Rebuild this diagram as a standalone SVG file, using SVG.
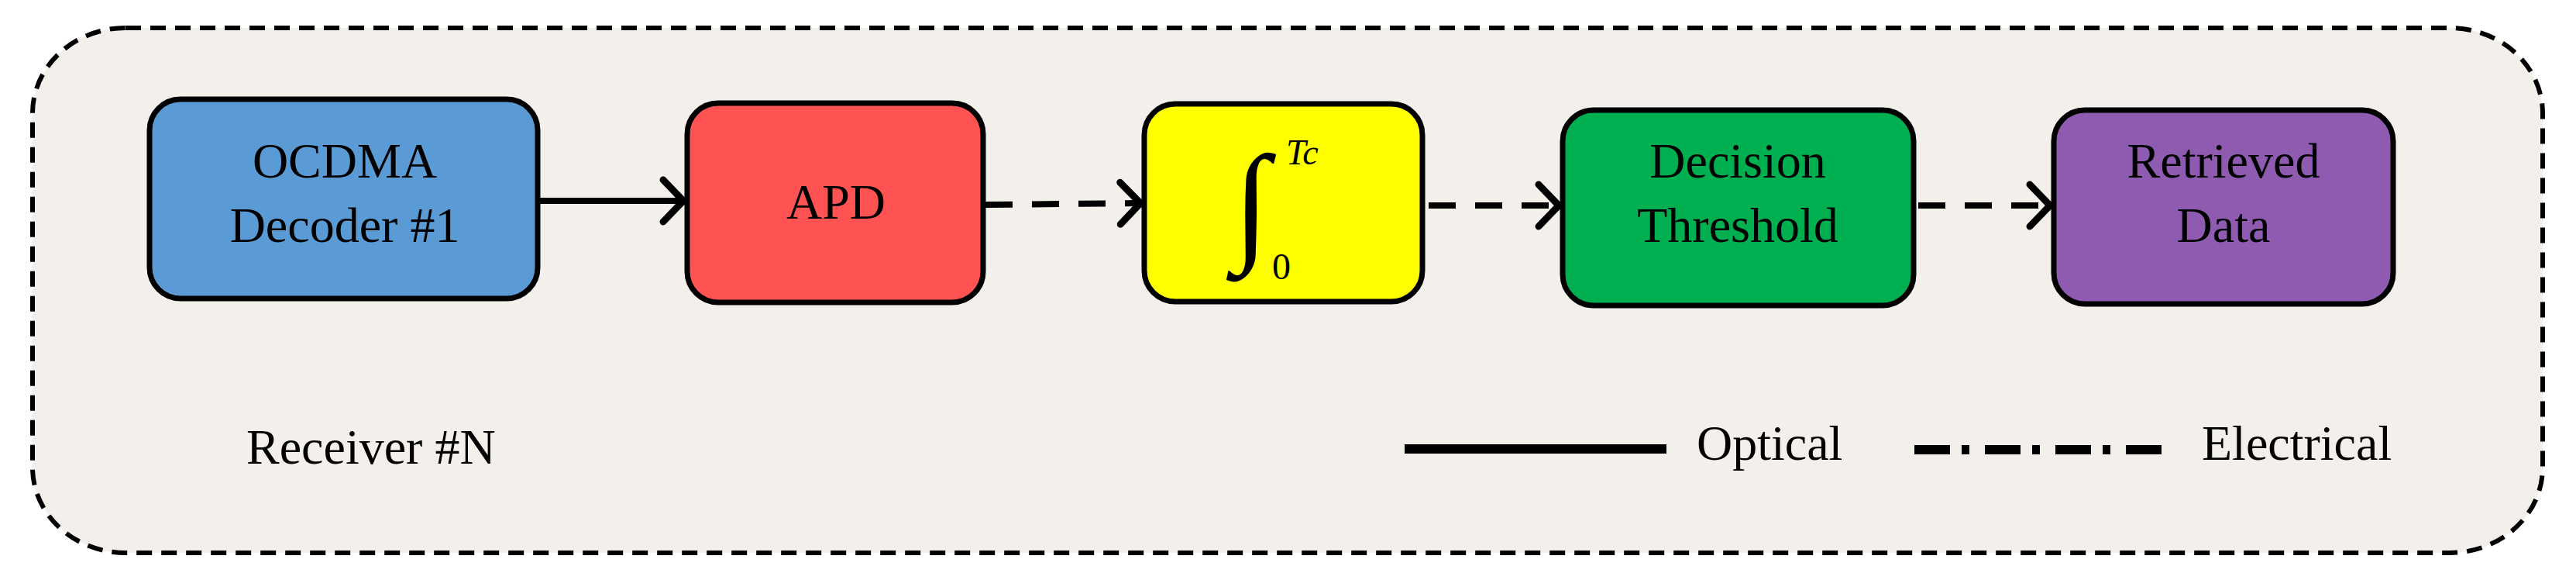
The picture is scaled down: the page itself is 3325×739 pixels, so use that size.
<svg xmlns="http://www.w3.org/2000/svg" width="3325" height="739" viewBox="0 0 3325 739">
<defs>
<marker id="chev" markerUnits="userSpaceOnUse" markerWidth="60" markerHeight="70" refX="50" refY="35" orient="auto">
<path d="M22 8 L48 35 L22 62" fill="none" stroke="#000" stroke-width="9" stroke-linecap="round" stroke-linejoin="miter"/>
</marker>
</defs>
<style>
.box{stroke:#000;stroke-width:7}
.t{font-family:"Liberation Serif","Times New Roman",serif;font-size:64px;fill:#000;text-anchor:middle}
.c{stroke:#000;stroke-width:8;fill:none}
</style>
<rect x="42" y="36" width="3240" height="677" rx="120" ry="110" fill="#F3EFEB" stroke="#000" stroke-width="6" stroke-dasharray="20 12"/>
<g id="n1"><rect class="box" x="193" y="128" width="501" height="257" rx="40" fill="#5B9BD5"/>
<text class="t" x="445" y="229">OCDMA</text><text class="t" x="445" y="312">Decoder #1</text></g>
<g id="n2"><rect class="box" x="887" y="133" width="382" height="257" rx="40" fill="#FF5353"/>
<text class="t" x="1079" y="282">APD</text></g>
<g id="n3"><rect class="box" x="1477" y="134" width="359" height="255" rx="40" fill="#FFFF00"/>
<text x="1592" y="318" font-family="Liberation Serif,serif" font-size="170" fill="#000">∫</text>
<text x="1660" y="212" font-family="Liberation Serif,serif" font-style="italic" font-size="46" fill="#000">Tc</text>
<text x="1642" y="360" font-family="Liberation Serif,serif" font-size="48" fill="#000">0</text></g>
<g id="n4"><rect class="box" x="2017" y="142" width="453" height="252" rx="40" fill="#00B050"/>
<text class="t" x="2243" y="229">Decision</text><text class="t" x="2243" y="312">Threshold</text></g>
<g id="n5"><rect class="box" x="2651" y="142" width="438" height="250" rx="40" fill="#8E5BB0"/>
<text class="t" x="2870" y="229">Retrieved</text><text class="t" x="2870" y="312">Data</text></g>
<g id="connectors">
<line class="c" x1="697" y1="259" x2="884" y2="259" marker-end="url(#chev)"/>
<line class="c" x1="1272" y1="264" x2="1474" y2="262" stroke-dasharray="35 25" marker-end="url(#chev)"/>
<line class="c" x1="1844" y1="265" x2="2014" y2="265" stroke-dasharray="35 25" marker-end="url(#chev)"/>
<line class="c" x1="2476" y1="265" x2="2648" y2="265" stroke-dasharray="35 25" marker-end="url(#chev)"/>
</g>
<g id="legend">
<line x1="1813" y1="579" x2="2151" y2="579" stroke="#000" stroke-width="12"/>
<text x="2190" y="593" font-family="Liberation Serif,serif" font-size="64" fill="#000">Optical</text>
<line x1="2471" y1="580" x2="2798" y2="580" stroke="#000" stroke-width="12" stroke-dasharray="46 15 10 20"/>
<text x="2842" y="593" font-family="Liberation Serif,serif" font-size="64" fill="#000">Electrical</text>
</g>
<text x="318" y="598" font-family="Liberation Serif,serif" font-size="64" fill="#000">Receiver #N</text>
</svg>
